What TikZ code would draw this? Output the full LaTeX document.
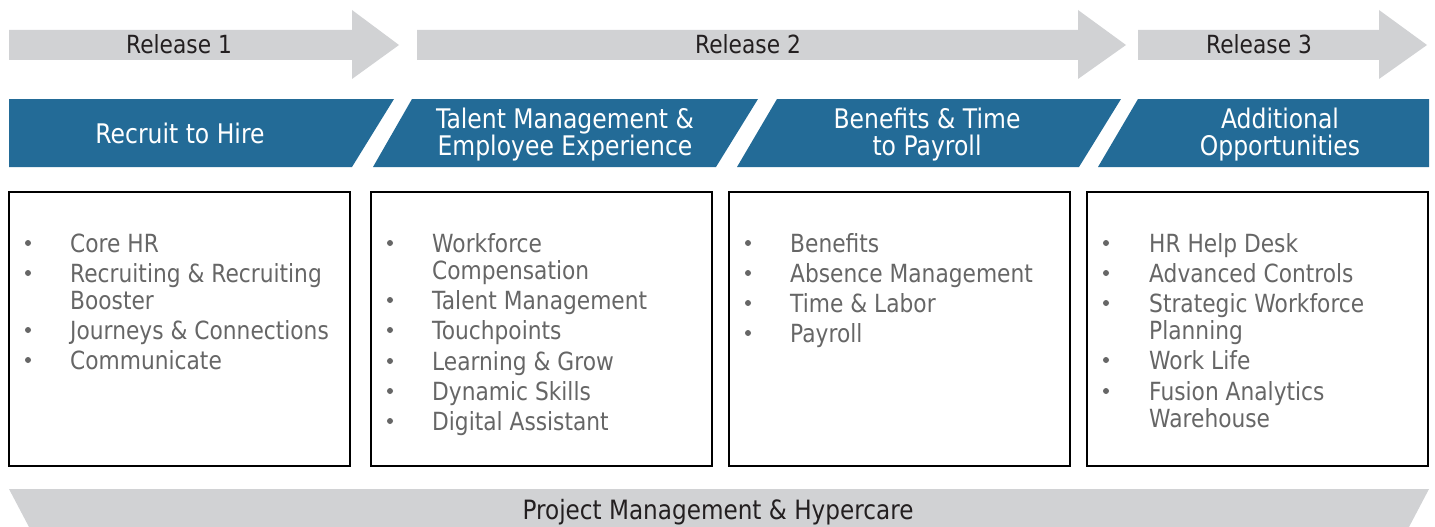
\documentclass[tikz,border=0pt]{standalone}
\usepackage{fontspec}
\setmainfont{DejaVu Sans}[FakeStretch=0.87]
\definecolor{relgray}{HTML}{D1D2D4}
\definecolor{banblue}{HTML}{236B97}
\definecolor{reltext}{HTML}{231F20}
\definecolor{itmtext}{HTML}{666666}
\begin{document}
\begin{tikzpicture}[x=1pt,y=-1pt,
  rellbl/.style={font=\fontsize{25}{30}\selectfont, text=reltext, inner sep=0, anchor=base},
  pmlbl/.style={font=\fontsize{26.6}{30}\selectfont, text=reltext, inner sep=0, anchor=base},
  banlbl/.style={font=\fontsize{27}{27}\selectfont, text=white, inner sep=0, anchor=base},
  itm/.style={font=\fontsize{25}{30}\selectfont, text=itmtext, inner sep=0, anchor=base west},
  bul/.style={circle, fill=itmtext, inner sep=0, minimum size=6pt},
  boxframe/.style={draw=black, line width=1.6pt, fill=white, inner sep=0}]
\useasboundingbox (0,0) rectangle (1435,527);
% release arrows
\fill[relgray] (9,30) -- (352,30) -- (352,10) -- (399,45) -- (352,79) -- (352,60) -- (9,60) -- cycle;
\fill[relgray] (417,30) -- (1078,30) -- (1078,10) -- (1126,45) -- (1078,79) -- (1078,60) -- (417,60) -- cycle;
\fill[relgray] (1138,30) -- (1379,30) -- (1379,10) -- (1427,45) -- (1379,79) -- (1379,60) -- (1138,60) -- cycle;
\node[rellbl] (r1) at (179,54) {Release 1};
\node[rellbl] (r2) at (748,54) {Release 2};
\node[rellbl] (r3) at (1259,54) {Release 3};
% banners
\fill[banblue] (9,99) -- (394,99) -- (352,167) -- (9,167) -- cycle;
\fill[banblue] (412,99) -- (758,99) -- (716,167) -- (373,167) -- cycle;
\fill[banblue] (777,99) -- (1121,99) -- (1079,167) -- (737,167) -- cycle;
\fill[banblue] (1138,99) -- (1429,99) -- (1429,167) -- (1098,167) -- cycle;
\node[banlbl] (t1) at (180,143) {Recruit to Hire};
\node[banlbl] (t2a) at (565,128) {Talent Management \&};
\node[banlbl] (t2b) at (565,155) {Employee Experience};
\node[banlbl] (t3a) at (927,128) {Benefits \& Time};
\node[banlbl] (t3b) at (927,155) {to Payroll};
\node[banlbl] (t4a) at (1280,128) {Additional};
\node[banlbl] (t4b) at (1280,155) {Opportunities};
% boxes
\draw[boxframe] (9,192) rectangle (350,466);
\draw[boxframe] (371,192) rectangle (712,466);
\draw[boxframe] (729,192) rectangle (1070,466);
\draw[boxframe] (1087,192) rectangle (1428,466);
% box 1
\node[bul] (a1b) at (28,243) {};  \node[itm] (a1) at (70,252) {Core HR};
\node[bul] (a2b) at (28,273) {};  \node[itm] (a2) at (70,282) {Recruiting \& Recruiting};
                                  \node[itm] (a2c) at (70,309) {Booster};
\node[bul] (a3b) at (28,330) {};  \node[itm] (a3) at (70,339) {Journeys \& Connections};
\node[bul] (a4b) at (28,360) {};  \node[itm] (a4) at (70,369) {Communicate};
% box 2
\node[bul] (b1b) at (390,243) {}; \node[itm] (b1) at (432,252) {Workforce};
                                  \node[itm] (b1c) at (432,279) {Compensation};
\node[bul] (b2b) at (390,300) {}; \node[itm] (b2) at (432,309) {Talent Management};
\node[bul] (b3b) at (390,330) {}; \node[itm] (b3) at (432,339) {Touchpoints};
\node[bul] (b4b) at (390,361) {}; \node[itm] (b4) at (432,370) {Learning \& Grow};
\node[bul] (b5b) at (390,391) {}; \node[itm] (b5) at (432,400) {Dynamic Skills};
\node[bul] (b6b) at (390,421) {}; \node[itm] (b6) at (432,430) {Digital Assistant};
% box 3
\node[bul] (c1b) at (748,243) {}; \node[itm] (c1) at (790,252) {Benefits};
\node[bul] (c2b) at (748,273) {}; \node[itm] (c2) at (790,282) {Absence Management};
\node[bul] (c3b) at (748,303) {}; \node[itm] (c3) at (790,312) {Time \& Labor};
\node[bul] (c4b) at (748,333) {}; \node[itm] (c4) at (790,342) {Payroll};
% box 4
\node[bul] (d1b) at (1106,243) {}; \node[itm] (d1) at (1149,252) {HR Help Desk};
\node[bul] (d2b) at (1106,273) {}; \node[itm] (d2) at (1149,282) {Advanced Controls};
\node[bul] (d3b) at (1106,303) {}; \node[itm] (d3) at (1149,312) {Strategic Workforce};
                                   \node[itm] (d3c) at (1149,339) {Planning};
\node[bul] (d4b) at (1106,360) {}; \node[itm] (d4) at (1149,369) {Work Life};
\node[bul] (d5b) at (1106,391) {}; \node[itm] (d5) at (1149,400) {Fusion Analytics};
                                   \node[itm] (d5c) at (1149,427) {Warehouse};
% bottom bar
\fill[relgray] (9,489) -- (1429,489) -- (1409,527) -- (29,527) -- cycle;
\node[pmlbl] (pm) at (718,519) {Project Management \& Hypercare};
\end{tikzpicture}
\end{document}
